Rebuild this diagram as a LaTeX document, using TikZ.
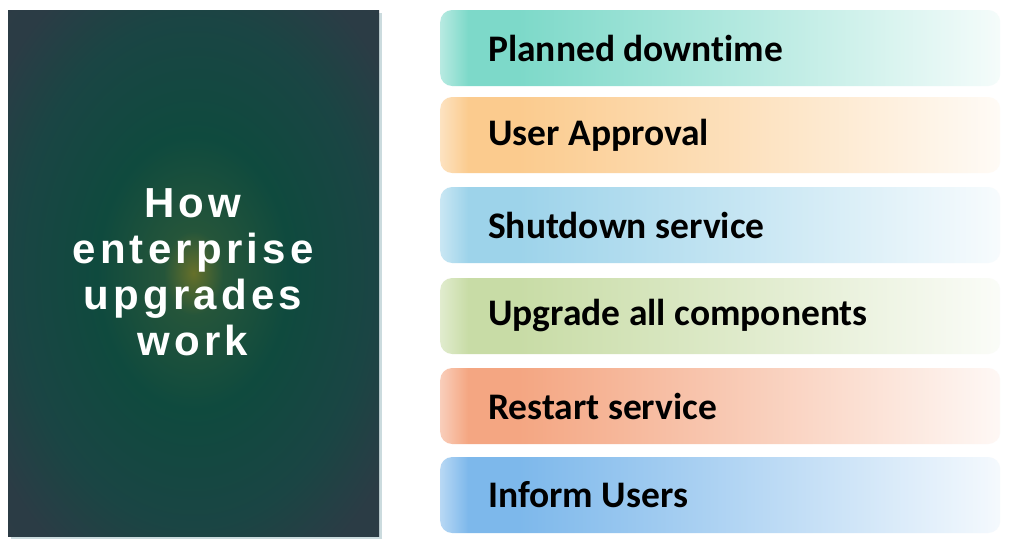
\documentclass[tikz,border=0pt]{standalone}
\usepackage{fontspec}
\setmainfont{Carlito}[Ligatures=NoCommon]
\newfontfamily\titlefont[LetterSpace=10]{Liberation Sans}
\definecolor{cA}{HTML}{7DD9C9}
\definecolor{cB}{HTML}{FBCB8E}
\definecolor{cC}{HTML}{9DD3EA}
\definecolor{cD}{HTML}{C8DCA6}
\definecolor{cE}{HTML}{F4A682}
\definecolor{cF}{HTML}{7DB8EB}
\definecolor{gZero}{HTML}{66702A}
\definecolor{gOne}{HTML}{25553A}
\definecolor{gTwo}{HTML}{0F4A3E}
\definecolor{gThree}{HTML}{1A4544}
\definecolor{gFour}{HTML}{2B3C45}
\definecolor{gFive}{HTML}{2F3946}
\definecolor{shadowc}{HTML}{A9C4C8}
\newcommand{\mkbarshade}[2]{%
  \pgfdeclarehorizontalshading{#1}{100bp}{color(0bp)=(#2!55!white); color(25bp)=(#2!55!white); color(27.5bp)=(#2); color(32bp)=(#2); color(52bp)=(#2!58!white); color(75bp)=(#2!8!white); color(100bp)=(#2!8!white)}}
\mkbarshade{shA}{cA}
\mkbarshade{shB}{cB}
\mkbarshade{shC}{cC}
\mkbarshade{shD}{cD}
\mkbarshade{shE}{cE}
\mkbarshade{shF}{cF}
\newcommand{\tightspace}{\spaceskip=8.5pt\relax}
\pgfdeclareradialshading{glow}{\pgfpoint{0bp}{0bp}}{color(0bp)=(gZero); color(4bp)=(gOne); color(13bp)=(gTwo); color(24bp)=(gThree); color(32bp)=(gFour); color(50bp)=(gFive)}
\tikzset{
  bar/.style={minimum width=560pt, minimum height=76pt, rounded corners=12pt,
    inner xsep=48pt, inner ysep=0pt, text width=464pt, align=left, anchor=west,
    font=\bfseries\fontsize{37.5}{42}\selectfont, text=black,
    execute at begin node=\tightspace},
  titletext/.style={text=white, align=center, font=\titlefont\bfseries\fontsize{42}{46}\selectfont}
}
\begin{document}
\begin{tikzpicture}[x=1pt,y=-1pt]
\useasboundingbox (0,0) rectangle (1012,544);
\fill[white] (0,0) rectangle (1012,544);
% left panel
\fill[shadowc, opacity=0.6] (11,13) rectangle (382,539);
\path[shading=glow] (8,10) rectangle (379,536);
\node[titletext] (title) at (193,272) {How\\enterprise\\upgrades\\work};
% bars
\node[bar, shading=shA] (b1) at (440,48) {Planned downtime};
\node[bar, shading=shB] (b2) at (440,135) {User Approval};
\node[bar, shading=shC] (b3) at (440,225) {Shutdown service};
\node[bar, shading=shD] (b4) at (440,316) {Upgrade all components};
\node[bar, shading=shE] (b5) at (440,406) {Restart service};
\node[bar, shading=shF] (b6) at (440,495) {Inform Users};
\end{tikzpicture}
\end{document}
